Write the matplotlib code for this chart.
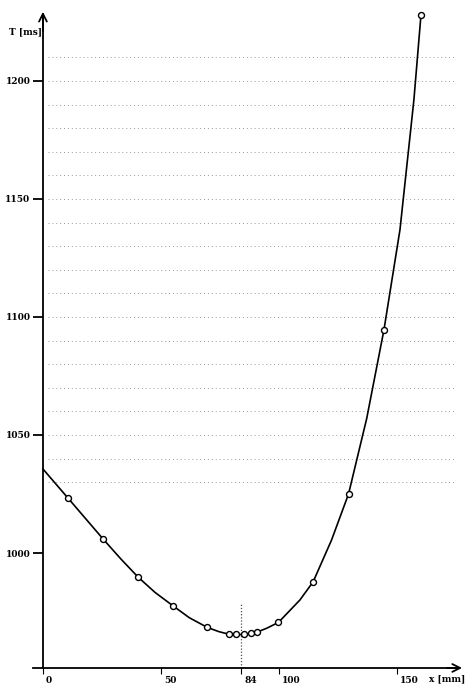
import matplotlib
matplotlib.use("Agg")
import matplotlib.pyplot as plt
import matplotlib.transforms as mtransforms

# measured points (circles)
x_pts = [10.5, 25.6, 40.3, 55.0, 69.6, 78.8, 81.8, 85.0, 88.0, 90.8, 99.8, 114.5, 129.5, 144.5, 160.2]
t_pts = [1023.4, 1005.8, 989.8, 977.7, 968.5, 965.6, 965.6, 965.6, 966.0, 966.5, 970.6, 987.8, 1025.0, 1094.5, 1228.0]

# curve
x_curve = [0.0, 10.5, 25.6, 33.0, 40.3, 47.5, 55.0, 62.0, 69.6, 74.5, 78.8, 85.0, 90.8, 95.0, 99.8,
           108.9, 114.5, 122.3, 129.5, 137.2, 144.5, 151.3, 157.2, 160.2]
t_curve = [1035.6, 1023.4, 1005.8, 997.5, 989.8, 983.3, 977.7, 972.6, 968.5, 966.7, 965.6, 965.4,
           966.5, 968.2, 970.6, 980.1, 987.8, 1005.5, 1025.0, 1057.0, 1094.5, 1137.0, 1192.0, 1228.0]

x_ticks = [0, 50, 84, 100, 150]
x_ticklabels = ['0', '50', '84', '100', '150']
y_ticks = [1000, 1050, 1100, 1150, 1200]
y_ticklabels = ['1000', '1050', '1100', '1150', '1200']
grid_levels = list(range(1030, 1220, 10))

t0 = 951.3       # where the x axis sits
x_min = 84       # vertical marker line

fig = plt.figure(figsize=(4.67, 6.84), dpi=100)
ax = fig.add_axes([0, 0, 1, 1])
ax.set_xlim(-18.2, 179.7)
ax.set_ylim(944.5, 1234.3)

# faint dotted grid (what survives of it on the scan)
ax.hlines(grid_levels, 2, 175, colors='0.6', linestyles=(0, (1, 3)), linewidth=0.7, zorder=1)

ax.plot(x_curve, t_curve, color='black', lw=1.2, zorder=3)
ax.plot(x_pts, t_pts, 'o', ms=4.3, mfc='white', mec='black', mew=1.0, zorder=4)
ax.vlines(x_min, t0, 979, colors='0.3', linestyles=(0, (1, 1.5)), linewidth=0.9, zorder=2)

# axes as arrows
for s in ['top', 'right']:
    ax.spines[s].set_visible(False)
ax.spines['left'].set_position(('data', 0))
ax.spines['bottom'].set_position(('data', t0))
ax.spines['left'].set_bounds(t0, 1228)
ax.spines['bottom'].set_bounds(-4.2, 176)
ax.spines['left'].set_linewidth(1.3)
ax.spines['bottom'].set_linewidth(1.3)
ax.annotate('', xy=(0, 1230.5), xytext=(0, 1220),
            arrowprops=dict(arrowstyle='->', lw=1.3, color='black', mutation_scale=14))
ax.annotate('', xy=(178.8, t0), xytext=(170, t0),
            arrowprops=dict(arrowstyle='->', lw=1.3, color='black', mutation_scale=14))

font = dict(family='DejaVu Serif', weight='bold', size=6.5)
ax.set_yticks(y_ticks)
ax.set_yticklabels(y_ticklabels, **font)
ax.set_xticks(x_ticks)
ax.set_xticklabels(x_ticklabels, ha='left', **font)
ax.tick_params(axis='y', direction='out', length=7.5, width=1.3, pad=1.5)
ax.tick_params(axis='x', direction='out', length=4, width=0.8, pad=2)
offset = mtransforms.ScaledTranslation(3 / 100, 0, fig.dpi_scale_trans)
for lab in ax.get_xticklabels():
    lab.set_transform(lab.get_transform() + offset)

ax.text(-7.2, 1220.8, 'T [ms]', ha='center', va='center', **font)
ax.text(171.2, 946.6, 'x [mm]', ha='center', va='center', **font)

fig.savefig('out.png', dpi=100)
